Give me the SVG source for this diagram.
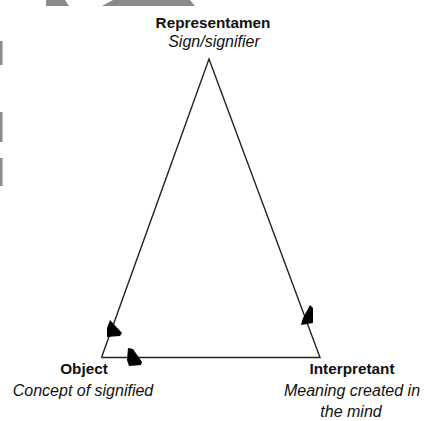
<svg xmlns="http://www.w3.org/2000/svg" width="424" height="421" viewBox="0 0 424 421">
<style>
.t{font-family:"Liberation Sans",Arial,sans-serif;fill:#111;text-anchor:middle}
.b{font-weight:bold;font-size:15.3px}
.i{font-style:italic;font-size:16px}
.edge{stroke:#222;stroke-width:1.4;fill:none}
.head{fill:#000;stroke:none}
.deco{fill:#8a8a8a;stroke:none}
</style>
<rect width="424" height="421" fill="#fff"/>
<g id="decorations">
<polygon class="deco" points="46,0 65,0 69,6 46,6"/>
<polygon class="deco" points="113,0 190,0 195,6 102,6"/>
<rect class="deco" x="0" y="41" width="2.5" height="24"/>
<rect class="deco" x="0" y="112" width="2.5" height="30"/>
<rect class="deco" x="0" y="158" width="2.5" height="28"/>
</g>
<g id="connectors">
<polyline class="edge" points="101.5,357.5 209,59 320,357.5 101.5,357.5"/>
<polygon class="head" points="110,320 122,333 120,336 107,337 107,328"/>
<polygon class="head" points="128,348 133,349 142,362 141,365 129,366 127,360"/>
<polygon class="head" points="310,305 313,308 313,323 301,325 303,318"/>
</g>
<g id="representamen">
<text class="t b" x="213" y="28">Representamen</text>
<text class="t i" x="214" y="47">Sign/signifier</text>
</g>
<g id="object">
<text class="t b" x="84" y="374">Object</text>
<text class="t i" x="83" y="396">Concept of signified</text>
</g>
<g id="interpretant">
<text class="t b" x="352" y="374">Interpretant</text>
<text class="t i" x="352" y="396">Meaning created in</text>
<text class="t i" x="351" y="417">the mind</text>
</g>
</svg>
